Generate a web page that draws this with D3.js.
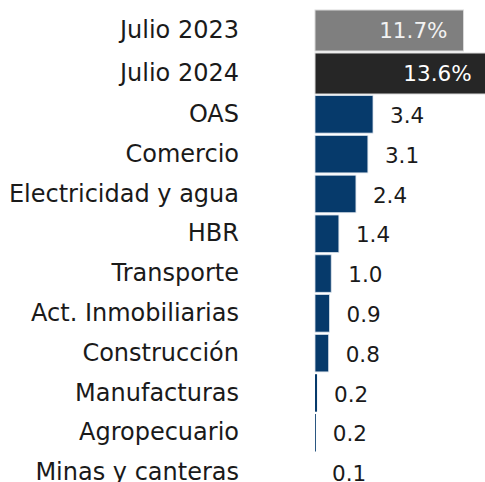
<!DOCTYPE html>
<html>
<head>
<meta charset="utf-8">
<script src="https://cdn.jsdelivr.net/npm/d3@7"></script>
<style>
  body { margin: 0; background: #fff; }
  svg { display: block; font-family: "DejaVu Sans", sans-serif; }
</style>
</head>
<body>
<div id="chart"></div>
<script>
// totales
const periodos = ['Julio 2023', 'Julio 2024'];
const totales = [11.7, 13.6];
const totalLabels = ['11.7%', '13.6%'];

// contribucion por sector
const sectores = ['OAS', 'Comercio', 'Electricidad y agua', 'HBR', 'Transporte',
    'Act. Inmobiliarias', 'Construcción', 'Manufacturas', 'Agropecuario', 'Minas y canteras'];
const contribLabels = ['3.4', '3.1', '2.4', '1.4', '1.0', '0.9', '0.8', '0.2', '0.2', '0.1'];
// largo de barra
const contrib = [3.4, 3.1, 2.4, 1.4, 0.95, 0.85, 0.8, 0.12, 0.05, 0];

const width = 485, height = 482;
const x0 = 315;

const svg = d3.select('#chart').append('svg')
    .attr('width', width)
    .attr('height', height);

const xTot = d3.scaleLinear().domain([0, 11.7]).range([x0, 463.5]);
const xCon = d3.scaleLinear().domain([0, 3.4]).range([x0, 373]);

const yTop = d3.scaleBand().domain(periodos).range([10, 94]).paddingInner(0.047);
const ySec = d3.scaleBand().domain(sectores).range([95.6, 491.3]).paddingInner(0.058);

const totColors = ['#7f7f7f', '#262626'];

// barras de totales
svg.selectAll('.tot')
    .data(periodos)
    .enter().append('rect')
    .attr('class', 'tot')
    .attr('x', x0)
    .attr('y', d => yTop(d))
    .attr('width', (d, i) => xTot(totales[i]) - x0)
    .attr('height', yTop.bandwidth())
    .attr('fill', (d, i) => totColors[i])
    .attr('stroke', '#d9d9d9')
    .attr('stroke-width', 1);

svg.selectAll('.totLabel')
    .data(periodos)
    .enter().append('text')
    .attr('x', (d, i) => xTot(totales[i]) - 16)
    .attr('y', d => yTop(d) + yTop.bandwidth() / 2)
    .attr('dy', '0.37em')
    .attr('text-anchor', 'end')
    .attr('font-size', '21.5px')
    .attr('fill', (d, i) => i === 0 ? '#f2f2f2' : '#ffffff')
    .text((d, i) => totalLabels[i]);

// barras de sectores
svg.selectAll('.sec')
    .data(sectores)
    .enter().append('rect')
    .attr('class', 'sec')
    .attr('x', x0)
    .attr('y', d => ySec(d))
    .attr('width', (d, i) => xCon(contrib[i]) - x0)
    .attr('height', ySec.bandwidth())
    .attr('fill', '#063a6b')
    .attr('stroke', (d, i) => contrib[i] > 0.5 ? '#d9e1ea' : 'none')
    .attr('stroke-width', 0.8);

svg.selectAll('.secLabel')
    .data(sectores)
    .enter().append('text')
    .attr('x', (d, i) => xCon(contrib[i]) + 17)
    .attr('y', d => ySec(d) + ySec.bandwidth() / 2)
    .attr('dy', '0.4em')
    .attr('font-size', '21.5px')
    .attr('fill', '#1a1a1a')
    .text((d, i) => contribLabels[i]);

// etiquetas de categoria
const cats = periodos.map(d => ({ name: d, y: yTop(d) + yTop.bandwidth() / 2 }))
    .concat(sectores.map(d => ({ name: d, y: ySec(d) + ySec.bandwidth() / 2 })));

svg.selectAll('.cat')
    .data(cats)
    .enter().append('text')
    .attr('x', 239)
    .attr('y', d => d.y)
    .attr('dy', '0.32em')
    .attr('text-anchor', 'end')
    .attr('font-size', '24px')
    .attr('fill', '#1a1a1a')
    .text(d => d.name);
</script>
</body>
</html>
